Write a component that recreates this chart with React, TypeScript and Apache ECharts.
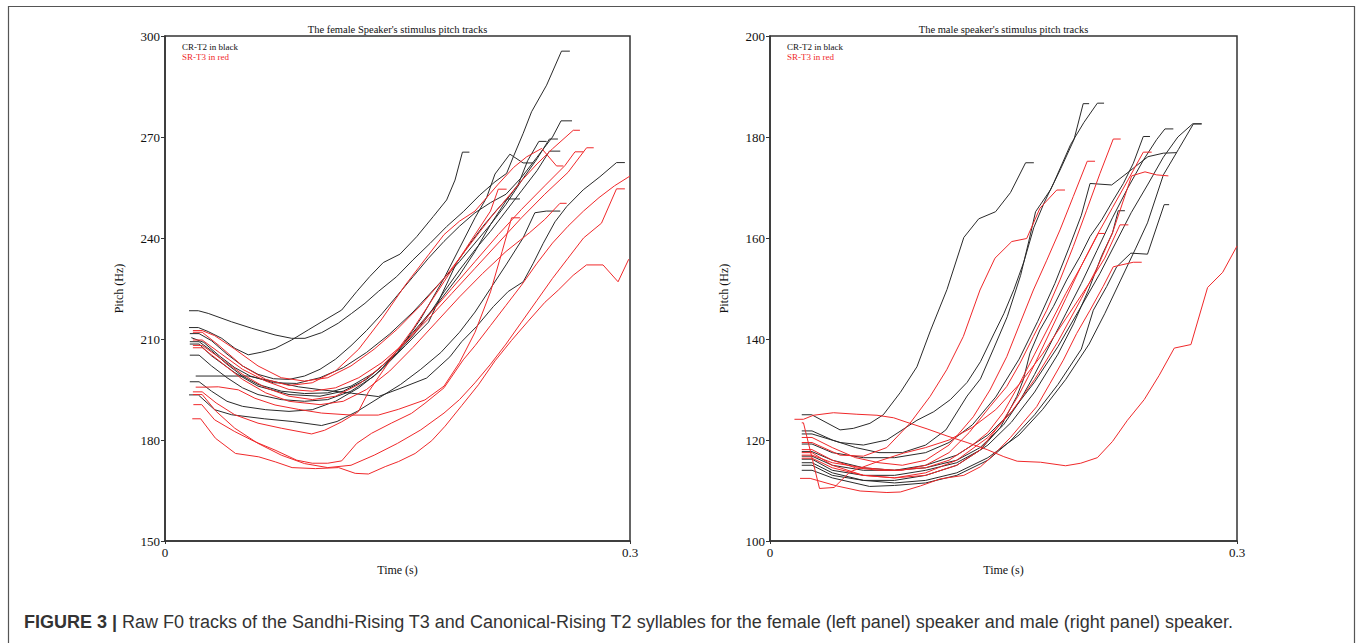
import React, { useEffect, useRef } from 'react';
import * as echarts from 'echarts';

// ---------- data: female speaker (Hz vs s) ----------
const femaleCR: number[][][] = [
  [[0.0155,213.4],[0.0215,213.4],[0.0279,212.2],[0.0366,210.2],[0.0452,207.2],[0.0537,205.3],[0.0624,206.1],[0.071,207.2],[0.0817,209.7],[0.0924,212.7],[0.1011,215.1],[0.114,218.6],[0.1237,224.1],[0.1322,228.6],[0.1408,232.7],[0.1516,235.2],[0.1624,240.4],[0.1731,246.4],[0.1817,251.3],[0.1871,257.2],[0.1919,265.5],[0.1964,265.5]],
  [[0.0155,218.4],[0.0215,218.4],[0.0279,217.6],[0.043,215.1],[0.0559,213.2],[0.071,211.2],[0.0817,210.2],[0.0903,210.2],[0.1011,211.9],[0.1118,214.7],[0.1204,217.6],[0.129,220.6],[0.1376,224.1],[0.1494,228.5],[0.16,233.5],[0.171,238.4],[0.1817,243.4],[0.1924,247.8],[0.2032,252.8],[0.2129,256.7],[0.2204,259.2],[0.2247,264.1],[0.2311,271.1],[0.2365,277.5],[0.2462,285.4],[0.2558,295.5],[0.2612,295.5]],
  [[0.0198,199],[0.0537,199],[0.071,197.3],[0.086,195.8],[0.101,194.9],[0.1204,193.9],[0.1376,192.9],[0.1516,195.3],[0.1688,198.4],[0.1838,204.7],[0.1914,209.2],[0.201,213.7],[0.2118,219.6],[0.2214,224.1],[0.2311,227],[0.2376,232.5],[0.244,238.4],[0.2516,244.8],[0.2591,249.3],[0.2698,254.3],[0.2806,258.2],[0.2913,262.4],[0.2967,262.4]],
  [[0.0155,193.4],[0.0215,193.4],[0.032,189],[0.043,187.5],[0.064,186.3],[0.082,185.5],[0.101,184.3],[0.111,185.5],[0.124,188.5],[0.138,192.5],[0.152,196.5],[0.165,201],[0.178,206],[0.19,212],[0.2,218],[0.21,225],[0.22,232],[0.231,240],[0.2386,247.5],[0.246,248],[0.255,248]],
  [[0.016,211.6],[0.022,211.6],[0.03,209.5],[0.04,205.5],[0.05,202],[0.06,199.5],[0.07,198.2],[0.08,198],[0.09,199],[0.1,201],[0.11,204],[0.12,208],[0.13,212.5],[0.14,217.5],[0.15,223],[0.16,228.5],[0.17,234],[0.18,239],[0.19,243.5],[0.2,247.5],[0.21,250.5],[0.22,253],[0.23,258],[0.24,264],[0.25,270],[0.2555,274.8],[0.2626,274.8]],
  [[0.017,210.4],[0.025,209],[0.035,205],[0.045,201.5],[0.055,199],[0.07,197],[0.085,196.8],[0.1,198.5],[0.115,201.5],[0.13,206],[0.145,211.5],[0.16,218],[0.175,225.5],[0.19,233],[0.2,238.5],[0.21,244],[0.22,250],[0.23,257],[0.24,263.5],[0.248,269.4],[0.2535,269.4]],
  [[0.016,209.2],[0.022,209.2],[0.03,206.5],[0.04,202.5],[0.05,199],[0.06,196.5],[0.075,194.5],[0.09,193.8],[0.105,194],[0.12,196],[0.135,200],[0.15,206],[0.16,211],[0.17,217],[0.18,224],[0.19,230.5],[0.2,236.5],[0.21,242],[0.22,248],[0.23,254],[0.24,260],[0.248,265.8],[0.255,265.8]],
  [[0.016,205.2],[0.022,205.2],[0.03,202],[0.04,198.5],[0.05,195.5],[0.06,193.5],[0.075,192],[0.09,191.5],[0.105,192],[0.12,194.5],[0.135,199],[0.15,206],[0.165,216],[0.18,228],[0.19,237],[0.2,246],[0.2075,252],[0.2129,259],[0.2225,264.9],[0.231,262.3],[0.2376,262.3]],
  [[0.016,197.3],[0.022,197.3],[0.03,194.5],[0.04,191.5],[0.05,190],[0.065,189],[0.08,188.5],[0.095,189],[0.11,191.5],[0.125,195.5],[0.14,201],[0.155,208],[0.17,215],[0.182,226.6],[0.188,232.5],[0.197,238.5],[0.205,243.4],[0.214,248.3],[0.2205,251.6],[0.229,251.6]],
  [[0.016,208.5],[0.022,208.5],[0.03,205],[0.045,200],[0.06,196],[0.08,193.5],[0.1,193],[0.115,194.5],[0.13,198],[0.145,204],[0.16,212],[0.175,220],[0.19,229],[0.2,236],[0.21,244],[0.22,251],[0.228,256],[0.234,263],[0.2412,268.7],[0.2462,268.7]],
];

const femaleSR: number[][][] = [
  [[0.0176,186.3],[0.023,186.3],[0.0326,180.5],[0.0455,176],[0.0605,175],[0.0712,173.5],[0.082,171.8],[0.097,171.5],[0.112,171.8],[0.1227,170.1],[0.1313,169.9],[0.1421,172.1],[0.1507,173.6],[0.1614,176],[0.1721,179.8],[0.1807,184.1],[0.1914,190.2],[0.2022,196.4],[0.2129,203.5],[0.2236,209.6],[0.2343,215.3],[0.2451,220.9],[0.2537,224.5],[0.2633,228.9],[0.2719,232],[0.2826,232],[0.2923,227],[0.2992,233.7]],
  [[0.0183,190.5],[0.0237,190.5],[0.032,186],[0.045,182.5],[0.058,179.5],[0.071,177],[0.085,174],[0.095,173.1],[0.105,173.1],[0.114,173.8],[0.1237,179],[0.1333,182],[0.146,185],[0.159,187.9],[0.1677,190.9],[0.18,195.5],[0.1924,203.8],[0.2,208],[0.21,214],[0.22,220],[0.23,226],[0.24,232.5],[0.25,238.5],[0.26,243.5],[0.27,248],[0.28,252],[0.29,255.5],[0.3,258.4]],
  [[0.018,193.5],[0.024,193.5],[0.033,188.5],[0.045,183.5],[0.06,179],[0.075,175.5],[0.09,173],[0.105,171.8],[0.12,172.5],[0.135,175.5],[0.15,179],[0.165,183],[0.18,188],[0.19,192],[0.2,197],[0.21,202.5],[0.22,208.5],[0.23,215],[0.24,221.5],[0.25,228],[0.26,234],[0.27,240],[0.2816,244.4],[0.2913,254.6],[0.2967,254.6]],
  [[0.018,194.3],[0.024,194.3],[0.033,191],[0.045,187.5],[0.06,185],[0.075,183.5],[0.0946,181.8],[0.103,182.9],[0.114,185.4],[0.1247,188.4],[0.1313,194.3],[0.1464,204.5],[0.16,213],[0.17,220],[0.18,227],[0.19,234],[0.2,241],[0.21,248],[0.215,254.5],[0.2204,254.5]],
  [[0.0198,195.7],[0.0258,195.7],[0.0344,195.8],[0.0473,194.9],[0.058,192.4],[0.071,190.4],[0.086,189.1],[0.101,188],[0.1204,187.4],[0.1376,187.4],[0.1505,189.1],[0.1677,191.9],[0.18,196],[0.19,203],[0.2,212],[0.21,224],[0.2175,236],[0.2236,246],[0.229,246]],
  [[0.018,212.5],[0.024,212.5],[0.032,211],[0.045,207],[0.06,202],[0.075,198.5],[0.09,197.5],[0.105,198.5],[0.12,202],[0.135,207],[0.15,213],[0.165,220],[0.18,228],[0.19,234],[0.2,240],[0.21,246],[0.22,251.5],[0.23,257],[0.24,262],[0.25,266.5],[0.2634,272],[0.2677,272]],
  [[0.018,212],[0.024,212],[0.035,208],[0.05,202],[0.065,198],[0.08,196.2],[0.095,197],[0.11,200.5],[0.125,207],[0.14,216],[0.155,226],[0.17,235],[0.18,241],[0.19,245],[0.2,248],[0.215,256],[0.225,261],[0.2333,264.1],[0.243,266.6],[0.2526,261.4],[0.257,261.4]],
  [[0.018,209.7],[0.024,209.7],[0.035,206],[0.05,201],[0.065,197.5],[0.08,195],[0.095,194.5],[0.11,195.5],[0.125,198.5],[0.14,203],[0.155,209],[0.17,216],[0.185,223.5],[0.2,231],[0.215,238.5],[0.23,246],[0.245,253],[0.26,259.5],[0.272,266.8],[0.2766,266.8]],
  [[0.018,208.1],[0.024,208.1],[0.035,204.5],[0.05,199.5],[0.065,195.5],[0.08,193],[0.095,192],[0.11,193],[0.125,196.5],[0.14,202],[0.155,209],[0.17,217],[0.185,225],[0.2,233],[0.215,241],[0.23,248.5],[0.245,255.5],[0.258,261.5],[0.2645,265.6],[0.27,265.6]],
  [[0.018,207.4],[0.024,207.4],[0.035,203.5],[0.05,198],[0.065,194],[0.08,191.5],[0.1,190.5],[0.115,191.5],[0.13,195],[0.145,200.5],[0.16,207.5],[0.175,215],[0.19,222.5],[0.205,229.5],[0.22,236],[0.235,241.5],[0.245,245.5],[0.2548,250.3],[0.2591,250.3]],
];

// ---------- data: male speaker ----------
const maleCR: number[][][] = [
  [[0.0204,125],[0.0268,125],[0.045,122],[0.0535,122.3],[0.0642,123.3],[0.0728,125],[0.0837,129.4],[0.0944,134.5],[0.103,141.6],[0.1137,149.8],[0.1245,160.1],[0.1341,163.8],[0.1449,165.2],[0.1545,169],[0.1642,174.9],[0.1695,174.9]],
  [[0.0204,121.8],[0.027,121.8],[0.04,120],[0.055,118.5],[0.07,117.5],[0.085,117.5],[0.1,119],[0.113,122],[0.1266,128.7],[0.1352,132.1],[0.1438,138.2],[0.1524,144.4],[0.161,152.6],[0.1663,159.4],[0.1706,165.2],[0.1803,169.6],[0.1867,173.7],[0.1953,179.5],[0.2012,186.6],[0.205,186.6]],
  [[0.0204,121.2],[0.027,121.2],[0.045,119.5],[0.06,119],[0.075,120],[0.0944,123.9],[0.1052,125.6],[0.1159,128],[0.1266,131.4],[0.1352,135.5],[0.1438,141],[0.1502,145],[0.1567,149.8],[0.1631,155.3],[0.1695,162.1],[0.176,166.9],[0.1824,171],[0.1931,178.5],[0.2017,182.9],[0.2103,186.7],[0.2146,186.7]],
  [[0.0204,116.2],[0.027,116.2],[0.04,114],[0.06,113],[0.08,113],[0.1,114],[0.12,115.5],[0.135,118],[0.148,122.5],[0.1585,128.6],[0.1627,131.9],[0.167,137.2],[0.1734,141.8],[0.182,146.4],[0.1906,151.7],[0.1991,156.3],[0.2056,160.3],[0.2131,163.6],[0.2205,167.5],[0.227,170.8],[0.2334,174.8],[0.2398,180.1],[0.2441,180.1]],
  [[0.0204,117.7],[0.027,117.7],[0.04,116],[0.06,114.5],[0.08,114],[0.1,114.5],[0.12,116],[0.135,118.5],[0.15,123],[0.16,127.5],[0.17,133],[0.18,139],[0.19,145],[0.2,151],[0.21,157.5],[0.22,164],[0.23,170],[0.24,175.5],[0.2484,179.5],[0.2537,181.6],[0.2591,181.6]],
  [[0.0204,119.2],[0.027,119.2],[0.04,117.5],[0.06,116.5],[0.08,116.5],[0.1,117.5],[0.115,119.5],[0.13,123],[0.145,128.5],[0.16,136],[0.172,143.5],[0.183,151],[0.192,158],[0.2,164.5],[0.2056,170.8],[0.2195,170.5],[0.23,173],[0.2428,176.1],[0.2527,176.8],[0.2613,176.9]],
  [[0.0204,115.5],[0.027,115.5],[0.04,113.5],[0.06,112],[0.08,111.5],[0.1,112],[0.12,113.5],[0.14,116.5],[0.16,121],[0.175,126],[0.19,132],[0.205,139],[0.215,145],[0.225,151.5],[0.235,158],[0.2425,163],[0.2527,172.5],[0.2623,177.5],[0.272,182.6],[0.2773,182.6]],
  [[0.0204,114],[0.027,114],[0.04,112.5],[0.064,110.8],[0.08,111],[0.1,111.5],[0.12,113],[0.14,116],[0.155,120],[0.17,125],[0.185,131],[0.2,138],[0.2077,145.7],[0.2163,150.4],[0.2227,154.3],[0.2318,157],[0.2425,156.8],[0.2532,166.6],[0.2564,166.6]],
  [[0.0204,115],[0.027,115],[0.04,113],[0.06,112],[0.08,112],[0.1,113],[0.12,115],[0.14,119],[0.155,123.5],[0.17,129.5],[0.185,137],[0.195,143],[0.205,150],[0.2131,156.5],[0.22,161],[0.2237,165.4],[0.228,165.4]],
  [[0.0204,116.8],[0.027,116.8],[0.04,115],[0.06,114],[0.08,114],[0.1,115],[0.12,117],[0.14,121],[0.155,125.5],[0.17,131.5],[0.185,138.5],[0.2,146.5],[0.212,153],[0.222,159],[0.232,165],[0.2425,170.5],[0.2527,176],[0.262,180],[0.2715,182.6],[0.2773,182.6]],
];

const maleSR: number[][][] = [
  [[0.0157,124.1],[0.0215,124.1],[0.0279,124.9],[0.0408,125.4],[0.0558,125.1],[0.0687,124.9],[0.0794,124.4],[0.088,123.5],[0.1009,122.2],[0.1137,120.8],[0.1266,119.5],[0.1395,118.1],[0.1502,116.7],[0.1588,115.8],[0.1738,115.6],[0.1899,114.9],[0.1996,115.4],[0.2103,116.5],[0.22,119.7],[0.2296,123.9],[0.2404,128],[0.25,132.8],[0.2597,138.2],[0.2704,138.9],[0.2811,150.2],[0.2908,153.2],[0.3,158.4]],
  [[0.0204,119.5],[0.027,119.5],[0.045,117],[0.06,116.8],[0.075,118.5],[0.0899,123.3],[0.1028,128.6],[0.1135,133.9],[0.1242,140.5],[0.1349,149.7],[0.1445,156],[0.1553,159.3],[0.1649,159.9],[0.1734,165.9],[0.1842,169.5],[0.1895,169.5]],
  [[0.0204,120.5],[0.027,120.5],[0.04,118.5],[0.055,116.5],[0.07,115.5],[0.085,115],[0.1,116],[0.115,119],[0.1306,124.6],[0.1413,129.9],[0.1521,136.5],[0.1606,143.1],[0.1692,149.7],[0.1778,155.6],[0.1863,161.6],[0.1948,168.2],[0.2038,175.2],[0.2088,175.2]],
  [[0.0204,118.1],[0.027,118.1],[0.04,116],[0.055,114.5],[0.07,114],[0.085,114],[0.1,115],[0.115,117.5],[0.128,121.5],[0.1413,126.6],[0.1521,130.6],[0.1606,135.2],[0.1692,140.5],[0.1778,145.7],[0.1863,151.7],[0.1948,158.3],[0.2034,165.5],[0.212,172.8],[0.2205,179.6],[0.2253,179.6]],
  [[0.0204,117.5],[0.027,117.5],[0.04,115],[0.06,113],[0.08,112.5],[0.1,113],[0.12,115],[0.135,118],[0.15,124],[0.16,129],[0.17,135],[0.18,141.5],[0.19,148],[0.2,154.5],[0.21,160.5],[0.22,166],[0.23,171.5],[0.2398,177],[0.2452,177]],
  [[0.0204,116.4],[0.027,116.4],[0.04,114.5],[0.06,113],[0.08,112.5],[0.1,113.5],[0.12,116],[0.14,120.5],[0.155,125.5],[0.17,132],[0.185,139.5],[0.2,148],[0.21,154],[0.22,161],[0.2323,172.3],[0.2409,173.1],[0.2484,172.5],[0.2559,172.3]],
  [[0.0193,112.4],[0.0258,112.4],[0.0429,110.9],[0.0579,109.9],[0.0751,109.6],[0.0837,109.7],[0.0966,110.9],[0.1094,112.3],[0.1245,113],[0.1352,114.7],[0.1438,117.1],[0.1545,120.5],[0.1627,123.5],[0.1713,126.6],[0.1799,131.2],[0.1884,135.8],[0.197,141.1],[0.2056,145.7],[0.214,150.4],[0.2205,154.3],[0.2334,155.2],[0.2388,155.2]],
  [[0.0204,123.4],[0.0215,123.4],[0.0318,110.4],[0.0412,110.6],[0.0514,113.7],[0.0707,115.9],[0.0857,117.4],[0.1,118.5],[0.115,120],[0.13,122.5],[0.145,126],[0.16,131],[0.175,137],[0.19,144],[0.205,151],[0.215,156],[0.2248,162.6],[0.2302,162.6]],
  [[0.0204,117],[0.027,117],[0.04,115.5],[0.06,114.5],[0.08,114],[0.1,114.5],[0.115,116],[0.13,119],[0.14,121.5],[0.15,125.5],[0.16,131],[0.17,137],[0.18,143],[0.19,149],[0.2,154.5],[0.2109,160.9],[0.2152,160.9]],
];

// ---------- axes ----------
const timeRange = [0, 0.3];
const femalePitchTicks = [150, 180, 210, 240, 270, 300];
const malePitchTicks = [100, 120, 140, 160, 180, 200];
const panelTitles = ["The female Speaker's stimulus pitch tracks", "The male speaker's stimulus pitch tracks"];
const legendTexts = ['CR-T2 in black', 'SR-T3 in red'];
const captionBold = 'FIGURE 3 |';
const captionText = ' Raw F0 tracks of the Sandhi-Rising T3 and Canonical-Rising T2 syllables for the female (left panel) speaker and male (right panel) speaker.';

const SERIF = "'Liberation Serif', 'Times New Roman', serif";
const SANS = "'Liberation Sans', Arial, sans-serif";
const BLACK = '#2a2a2a';
const RED = '#f0282a';

export default function App() {
  const ref = useRef<HTMLDivElement>(null);
  useEffect(() => {
    const chart = echarts.init(ref.current!, null, { renderer: 'svg' });
    const grids = [
      { left: 165, top: 36, width: 465, height: 505 },
      { left: 770, top: 36, width: 467, height: 505 },
    ];
    const ticksets = [femalePitchTicks, malePitchTicks];
    const xAxis = grids.map((_, i) => ({
      type: 'value', gridIndex: i, min: timeRange[0], max: timeRange[1], interval: timeRange[1] - timeRange[0],
      name: 'Time (s)', nameLocation: 'middle', nameGap: 21,
      nameTextStyle: { fontFamily: SERIF, fontSize: 12, color: '#111' },
      axisLine: { show: true, onZero: false, lineStyle: { color: '#333', width: 1.5 } },
      axisTick: { show: true, length: 3, lineStyle: { color: '#333' } },
      axisLabel: { fontFamily: SERIF, fontSize: 13, color: '#111', margin: 5 },
      splitLine: { show: false },
    }));
    const yAxis = grids.map((_, i) => {
      const t = ticksets[i];
      return {
        type: 'value', gridIndex: i, min: t[0], max: t[t.length - 1], interval: t[1] - t[0],
        name: 'Pitch (Hz)', nameLocation: 'middle', nameGap: 40,
        nameTextStyle: { fontFamily: SERIF, fontSize: 12, color: '#111' },
        axisLine: { show: true, onZero: false, lineStyle: { color: '#333', width: 1.5 } },
        axisTick: { show: true, length: 4, lineStyle: { color: '#333' } },
        axisLabel: { fontFamily: SERIF, fontSize: 13, color: '#111', margin: 5 },
        splitLine: { show: false },
      };
    });
    const series: any[] = [];
    const panels = [[femaleCR, femaleSR], [maleCR, maleSR]];
    panels.forEach(([cr, sr], gi) => {
      cr.forEach((tr) => series.push({ type: 'line', xAxisIndex: gi, yAxisIndex: gi, data: tr, showSymbol: false, silent: true, lineStyle: { color: BLACK, width: 1 }, z: 2 }));
      sr.forEach((tr) => series.push({ type: 'line', xAxisIndex: gi, yAxisIndex: gi, data: tr, showSymbol: false, silent: true, lineStyle: { color: RED, width: 1 }, z: 3 }));
    });
    const graphic: any[] = [
      { type: 'rect', shape: { x: 8.5, y: 6.5, width: 1346, height: 700 }, style: { fill: 'none', stroke: '#555', lineWidth: 1.2 }, silent: true },
    ];
    grids.forEach((g, i) => {
      graphic.push({ type: 'text', x: g.left + g.width / 2, y: 29, style: { text: panelTitles[i], fontFamily: SERIF, fontSize: 10.5, fill: '#111', align: 'center', verticalAlign: 'middle' } });
      graphic.push({ type: 'text', x: g.left + 17, y: 47, style: { text: legendTexts[0], fontFamily: SERIF, fontSize: 9, fill: '#111', align: 'left', verticalAlign: 'middle' } });
      graphic.push({ type: 'text', x: g.left + 17, y: 57, style: { text: legendTexts[1], fontFamily: SERIF, fontSize: 9, fill: RED, align: 'left', verticalAlign: 'middle' } });
    });
    graphic.push({
      type: 'text', x: 24, y: 622,
      style: {
        text: '{b|' + captionBold + '}{r|' + captionText + '}',
        verticalAlign: 'middle',
        rich: {
          b: { fontFamily: SANS, fontSize: 18, fontWeight: 'bold', fill: '#333' },
          r: { fontFamily: SANS, fontSize: 18, fill: '#333' },
        },
      },
    });
    chart.setOption({
      animation: false,
      backgroundColor: '#fff',
      grid: grids.map((g) => ({ ...g, show: true, borderColor: '#333', borderWidth: 1.5, backgroundColor: 'transparent' })),
      xAxis, yAxis, series, graphic,
    });
    return () => chart.dispose();
  }, []);
  return <div ref={ref} style={{ position: 'absolute', left: 0, top: 0, width: 1357, height: 643, background: '#fff' }} />;
}
